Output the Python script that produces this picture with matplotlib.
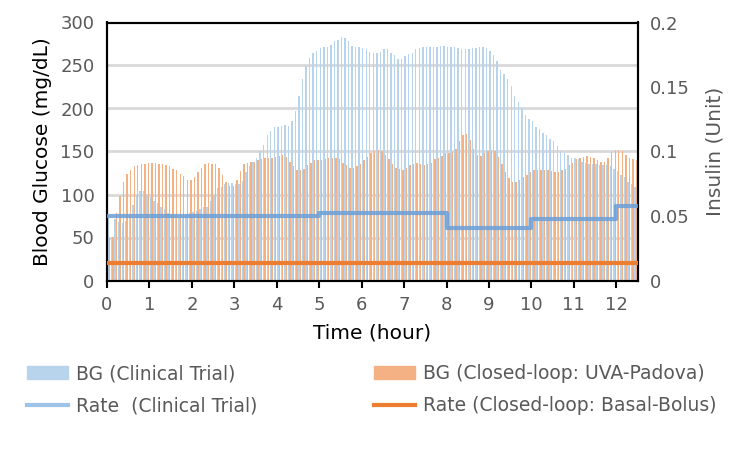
import matplotlib
matplotlib.use("Agg")
import matplotlib.pyplot as plt
from matplotlib.lines import Line2D
from matplotlib.patches import Patch
import numpy as np

# Blood glucose every 5 minutes (mg/dL)
bg_clinical = [
    75, 51, 72, 68, 67, 69, 77, 88, 99, 104, 104, 101, 97, 93, 90, 86, 83, 79, 76, 75, 74, 74, 76, 79, 80, 81,
    83, 85, 86, 93, 100, 107, 109, 112, 113, 113, 112, 112, 116, 126, 133, 138, 143, 150, 158, 169, 174, 178, 179, 180, 181, 180,
    185, 197, 215, 234, 249, 259, 264, 267, 270, 271, 272, 274, 278, 280, 283, 282, 278, 273, 271, 271, 270, 269, 266, 265, 264,
    266, 269, 269, 265, 262, 258, 258, 261, 263, 265, 269, 270, 271, 271, 272, 272, 272, 273, 273, 272, 271, 271, 270, 269, 269,
    269, 270, 270, 271, 271, 270, 267, 262, 255, 245, 240, 234, 226, 215, 207, 200, 193, 188, 185, 179, 176, 171, 169, 165, 162,
    156, 150, 148, 146, 143, 142, 141, 138, 137, 136, 135, 135, 134, 134, 134, 133, 130, 127, 123, 120, 115, 112, 109,
]
bg_closed = [
    49, 51, 78, 98, 114, 124, 129, 133, 134, 135, 136, 137, 137, 137, 136, 135, 134, 133, 130, 128, 124, 121, 117, 117, 120, 126,
    131, 135, 137, 136, 136, 131, 123, 115, 110, 110, 117, 127, 135, 137, 138, 138, 140, 141, 142, 142, 143, 144, 145, 146, 144,
    138, 133, 128, 128, 130, 134, 137, 140, 140, 140, 141, 142, 143, 142, 141, 137, 134, 131, 131, 133, 136, 140, 144, 148, 151, 152,
    150, 146, 141, 136, 131, 130, 129, 131, 134, 136, 137, 136, 134, 135, 137, 141, 143, 145, 148, 148, 149, 153, 162, 169, 170,
    163, 153, 146, 145, 148, 151, 152, 150, 144, 135, 126, 119, 115, 115, 117, 120, 123, 126, 128, 129, 129, 129, 128, 127, 126, 126,
    128, 130, 134, 137, 141, 142, 144, 145, 144, 143, 140, 138, 138, 143, 149, 152, 152, 150, 146, 143, 141, 140,
]
sample_minutes = 5

# Insulin rate (Unit)
rate_ct_times = [0, 5, 8, 10, 12, 12.5]
rate_ct_values = [0.050, 0.052, 0.041, 0.048, 0.058]
rate_cl_times = [0, 12.5]
rate_cl_values = [0.0133]

x_ticks = list(range(0, 13))
y_ticks = [0, 50, 100, 150, 200, 250, 300]
y2_ticks = [0, 0.05, 0.1, 0.15, 0.2]
y2_labels = ["0", "0.05", "0.1", "0.15", "0.2"]

c_bg_ct = "#b8d4ed"
c_bg_cl = "#f4b183"
c_rate_ct = "#6a9fd8"
c_rate_cl = "#ed7d31"
grey = "#595959"

plt.rcParams['font.family'] = ['DejaVu Sans']

fig = plt.figure(figsize=(7.51, 4.51), dpi=100)
ax = fig.add_axes([107 / 751, 1 - 280.5 / 451, 530.5 / 751, 258 / 451])

dt = sample_minutes / 60.0
n = len(bg_clinical)
centers = (np.arange(n) + 0.5) * dt
w = 0.4 * dt
ax.bar(centers - 0.2 * dt, bg_clinical, width=w, color=c_bg_ct, linewidth=0, zorder=2)
ax.bar(centers + 0.2 * dt, bg_closed, width=w, color=c_bg_cl, linewidth=0, zorder=3)

ax.set_xlim(0, 12.5)
ax.set_ylim(0, 300)
ax.set_xticks(x_ticks)
ax.set_yticks(y_ticks)
ax.yaxis.grid(True, color="#d9d9d9", linewidth=2)
ax.set_axisbelow(True)
ax.tick_params(axis='y', length=0, pad=9, labelsize=13, labelcolor=grey)
ax.tick_params(axis='x', length=5, width=1.5, direction='out', pad=6, labelsize=13, labelcolor=grey)
for s in ax.spines.values():
    s.set_linewidth(1.5)
    s.set_color("black")
ax.set_ylabel("Blood Glucose (mg/dL)", fontsize=14.5, color="black", labelpad=6)
ax.set_xlabel("Time (hour)", fontsize=14.5, color="black", labelpad=7)

ax2 = ax.twinx()
ax2.set_ylim(0, 0.2)
ax2.set_yticks(y2_ticks)
ax2.set_yticklabels(y2_labels)
ax2.tick_params(axis='y', length=0, pad=9, labelsize=13, labelcolor=grey)
for s in ax2.spines.values():
    s.set_linewidth(1.5)
    s.set_color("black")
ax2.step(rate_ct_times, rate_ct_values + [rate_ct_values[-1]], where='post',
         color=c_rate_ct, linewidth=3, alpha=0.85, zorder=4, solid_capstyle='butt')
ax2.step(rate_cl_times, rate_cl_values + [rate_cl_values[-1]], where='post',
         color=c_rate_cl, linewidth=3, zorder=5, solid_capstyle='butt')
ax2.set_ylabel("Insulin (Unit)", fontsize=14.5, color=grey, labelpad=11)

fs = 13.5
h1 = [Patch(color=c_bg_ct), Line2D([], [], color="#9dc3e6", linewidth=3)]
l1 = ["BG (Clinical Trial)", "Rate  (Clinical Trial)"]
h2 = [Patch(color=c_bg_cl), Line2D([], [], color=c_rate_cl, linewidth=3)]
l2 = ["BG (Closed-loop: UVA-Padova)", "Rate (Closed-loop: Basal-Bolus)"]
common = dict(loc='upper left', frameon=False, fontsize=fs, borderpad=0, borderaxespad=0,
              handlelength=2.2, handleheight=0.7, handletextpad=0.4, labelspacing=0.7,
              labelcolor=grey)
leg1 = fig.legend(h1, l1, bbox_to_anchor=(27 / 751, 1 - 364 / 451), **common)
leg2 = fig.legend(h2, l2, bbox_to_anchor=(374 / 751, 1 - 364 / 451), **common)

fig.savefig("out.png", dpi=100)
